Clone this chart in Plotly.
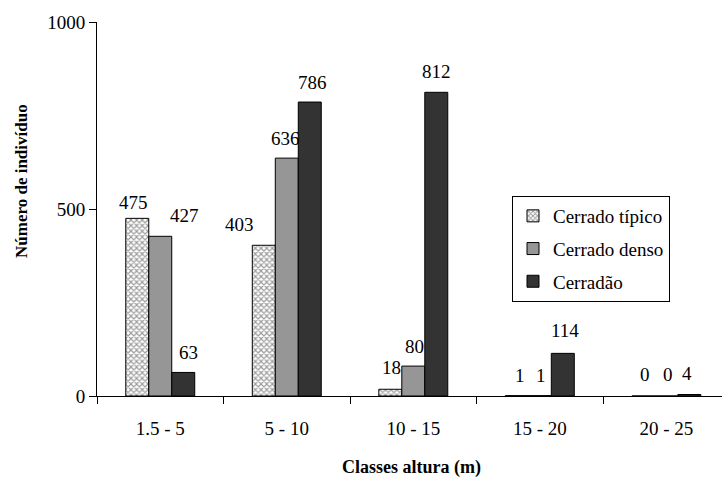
import plotly.graph_objects as go

# Height classes and number of individuals per cerrado physiognomy
classes = ["1.5 - 5", "5 - 10", "10 - 15", "15 - 20", "20 - 25"]
cerrado_tipico = [475, 403, 18, 1, 0]
cerrado_denso = [427, 636, 80, 1, 0]
cerradao = [63, 786, 812, 114, 4]

series_names = ["Cerrado típico", "Cerrado denso", "Cerradão"]
series_values = [cerrado_tipico, cerrado_denso, cerradao]

# Label nudges (px) so the value labels sit where they read best
label_dx = [[-4, -24, 1, 3, 2], [24, -1, 1, 1, 2], [5, 3, 0, 2, -2]]
label_dy = [[3, 8, 9, 8, 9], [8, 7, 7, 8, 9], [7, 7, 8, 10, 9]]

FONT = "Liberation Serif"
BAR_PX = 23  # width of one bar in pixels

fig = go.Figure()

fig.add_trace(go.Bar(
    x=classes, y=cerrado_tipico, name=series_names[0], legendgroup="a",
    marker=dict(color="white", line=dict(color="black", width=1),
                pattern=dict(shape="x", size=4, solidity=0.5,
                             fgcolor="#3a3a3a", bgcolor="white")),
))
fig.add_trace(go.Bar(
    x=classes, y=cerrado_denso, name=series_names[1], legendgroup="b",
    marker=dict(color="#969696", line=dict(color="black", width=1)),
))
fig.add_trace(go.Bar(
    x=classes, y=cerradao, name=series_names[2], legendgroup="c",
    marker=dict(color="#333333", line=dict(color="black", width=1)),
))

# Value labels above each bar
for s, vals in enumerate(series_values):
    for c, v in enumerate(vals):
        fig.add_annotation(
            x=classes[c], y=v, xref="x", yref="y", text=str(v),
            showarrow=False, yanchor="bottom", xanchor="center",
            xshift=(s - 1) * BAR_PX + label_dx[s][c], yshift=label_dy[s][c],
            font=dict(family=FONT, size=19, color="black"),
        )

# Axis titles
fig.add_annotation(
    x=(21 - 97) / 625, y=(396 - 181) / 374, xref="paper", yref="paper",
    text="<b>Número de indivíduo</b>", textangle=-90, showarrow=False,
    xanchor="center", yanchor="middle",
    font=dict(family=FONT, size=17, color="black"),
)
fig.add_annotation(
    x=(411 - 97) / 625, y=(396 - 467) / 374, xref="paper", yref="paper",
    text="<b>Classes altura (m)</b>", showarrow=False,
    xanchor="center", yanchor="middle",
    font=dict(family=FONT, size=18, color="black"),
)

fig.update_layout(
    width=722, height=478,
    margin=dict(l=97, r=0, t=22, b=82),
    paper_bgcolor="white", plot_bgcolor="white",
    barmode="group", bargap=0.455, bargroupgap=0,
    font=dict(family=FONT, size=19, color="black"),
    showlegend=True,
    legend=dict(
        x=(512 - 97) / 625, y=(396 - 196) / 374, xanchor="left", yanchor="top",
        bgcolor="white", bordercolor="black", borderwidth=1,
        font=dict(family=FONT, size=19, color="black"),
        tracegroupgap=5, traceorder="grouped",
    ),
    xaxis=dict(
        range=[-0.5, 4.44], showgrid=False, zeroline=False,
        showline=True, linecolor="black", linewidth=1,
        ticks="outside", tickson="boundaries", ticklen=7, tickcolor="black",
        ticklabelstandoff=15,
        tickfont=dict(family=FONT, size=19, color="black"),
        fixedrange=True,
    ),
    yaxis=dict(
        range=[0, 1000], tickvals=[0, 500, 1000], showgrid=False, zeroline=False,
        showline=True, linecolor="black", linewidth=1,
        ticks="outside", ticklen=7, tickcolor="black",
        tickfont=dict(family=FONT, size=19, color="black"),
        fixedrange=True,
    ),
)

fig.write_html("out.html")
